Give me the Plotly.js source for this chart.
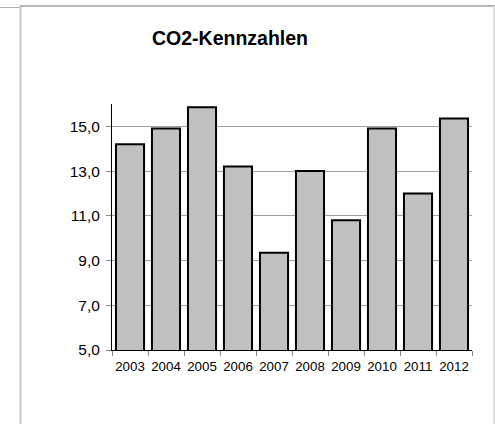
<!DOCTYPE html>
<html>
<head>
<meta charset="utf-8">
<script src="https://cdn.plot.ly/plotly-3.0.1.min.js"></script>
<style>
html,body{margin:0;padding:0;background:#fff;}
#chart{width:495px;height:424px;}
</style>
</head>
<body>
<div id="chart"></div>
<script>
var years = ["2003","2004","2005","2006","2007","2008","2009","2010","2011","2012"];
var values = [14.2, 14.9, 15.85, 13.2, 9.35, 13.0, 10.8, 14.9, 12.0, 15.35];
var yTicks = [5, 7, 9, 11, 13, 15];
var chartTitle = "CO2-Kennzahlen";

var W = 495, H = 424;
var L = 112, R = 23, T = 104, B = 74;
var pw = W - L - R, ph = H - T - B;
function px(x){ return (x - L) / pw; }
function py(y){ return (H - B - y) / ph; }

var trace = {
  type: 'bar',
  x: years,
  y: values,
  marker: {color: '#c0c0c0', line: {color: '#000000', width: 2}},
  hoverinfo: 'x+y'
};

var layout = {
  width: W, height: H,
  margin: {l: L, r: R, t: T, b: B, pad: 0},
  paper_bgcolor: '#ffffff',
  plot_bgcolor: '#ffffff',
  separators: ',.',
  bargap: 0.22,
  showlegend: false,
  font: {family: 'Liberation Sans, Arial, sans-serif', color: '#000000', size: 13.5},
  title: {
    text: chartTitle,
    font: {family: 'Liberation Sans, Arial, sans-serif', size: 19.5, color: '#000000', weight: 'bold'},
    xref: 'paper', x: px(230), xanchor: 'center',
    yref: 'container', y: 1 - 38/H, yanchor: 'middle'
  },
  xaxis: {
    type: 'category',
    showline: true, linecolor: '#000000', linewidth: 1,
    ticks: 'outside', tickson: 'boundaries', ticklen: 5, tickcolor: '#888888', tickwidth: 1,
    showgrid: false,
    tickangle: 0,
    ticklabelstandoff: 4,
    tickfont: {size: 13.3, color: '#000000'},
    zeroline: false,
    fixedrange: true
  },
  yaxis: {
    range: [5, 16],
    tickvals: yTicks,
    tickformat: '.1f',
    showline: true, linecolor: '#000000', linewidth: 1,
    ticks: 'outside', ticklen: 5, tickcolor: '#888888', tickwidth: 1,
    showgrid: true, gridcolor: '#a0a0a0', gridwidth: 1,
    zeroline: false,
    ticklabelstandoff: 3,
    tickfont: {size: 15.5, color: '#000000'},
    fixedrange: true
  },
  shapes: [
    {type: 'line', xref: 'paper', yref: 'paper', x0: px(20.5), x1: px(20.5), y0: py(6), y1: py(424), line: {color: '#c8c8c8', width: 2}, layer: 'below'},
    {type: 'line', xref: 'paper', yref: 'paper', x0: px(20), x1: px(495), y0: py(6), y1: py(6), line: {color: '#a0a0a0', width: 1.5}, layer: 'below'},
    {type: 'line', xref: 'paper', yref: 'paper', x0: px(0), x1: px(19.5), y0: py(7.5), y1: py(7.5), line: {color: '#b0b0b0', width: 1}, layer: 'below'},
    {type: 'line', xref: 'paper', yref: 'paper', x0: px(494), x1: px(494), y0: py(6), y1: py(424), line: {color: '#dcdcdc', width: 2}, layer: 'below'}
  ]
};

Plotly.newPlot('chart', [trace], layout, {displayModeBar: false, staticPlot: true});
</script>
</body>
</html>
